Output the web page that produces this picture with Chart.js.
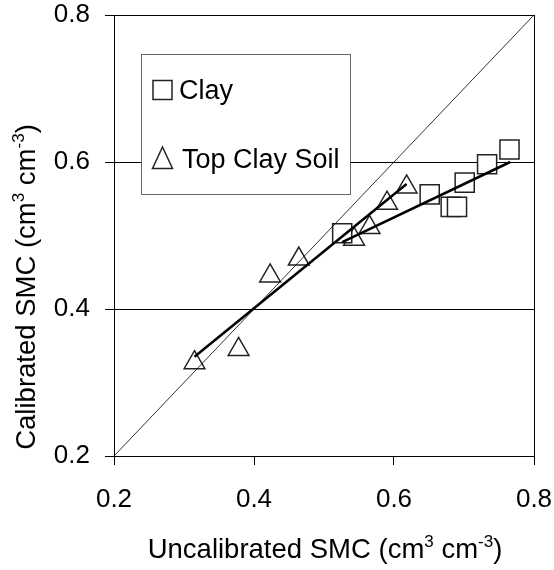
<!DOCTYPE html>
<html>
<head>
<meta charset="utf-8">
<script src="https://cdn.jsdelivr.net/npm/chart.js@4.4.0/dist/chart.umd.min.js"></script>
<style>
  body { margin: 0; background: #fff; }
  canvas { display: block; }
</style>
</head>
<body>
<canvas id="smc" width="554" height="570"></canvas>
<script>
// values
const clayX = [0.765, 0.733, 0.701, 0.651, 0.681, 0.690, 0.526];
const clayY = [0.617, 0.597, 0.572, 0.556, 0.539, 0.539, 0.503];
const topX = [0.618, 0.590, 0.565, 0.543, 0.464, 0.423, 0.378, 0.315];
const topY = [0.566, 0.544, 0.511, 0.495, 0.468, 0.445, 0.345, 0.327];
const clayFitX = [0.526, 0.766];
const clayFitY = [0.491, 0.600];
const topFitX = [0.315, 0.618];
const topFitY = [0.335, 0.570];
const oneToOne = [0.2, 0.8];
const axisTicks = [0.2, 0.4, 0.6, 0.8];
const seriesNames = ['Clay', 'Top Clay Soil'];

const FONT = "'Liberation Sans', Arial, sans-serif";
const pts = (xs, ys) => xs.map((x, i) => ({ x: x, y: ys[i] }));

// draws text with superscript parts, centered on 0,0 (baseline)
function richText(ctx, parts, size) {
  const supSize = Math.round(size * 0.62);
  let total = 0;
  parts.forEach(p => {
    ctx.font = (p.sup ? supSize : size) + 'px ' + FONT;
    p.w = ctx.measureText(p.t).width;
    total += p.w;
  });
  let x = -total / 2;
  parts.forEach(p => {
    ctx.font = (p.sup ? supSize : size) + 'px ' + FONT;
    ctx.fillText(p.t, x, p.sup ? -size * 0.4 : 0);
    x += p.w;
  });
}

const extras = {
  id: 'extras',
  afterDraw(chart) {
    const ctx = chart.ctx;
    ctx.save();
    ctx.fillStyle = '#000';
    ctx.textAlign = 'left';
    ctx.textBaseline = 'alphabetic';
    // x title
    ctx.save();
    ctx.translate(325, 558);
    richText(ctx, [{ t: 'Uncalibrated SMC (cm' }, { t: '3', sup: true }, { t: ' cm' }, { t: '-3', sup: true }, { t: ')' }], 27.5);
    ctx.restore();
    // y title
    ctx.save();
    ctx.translate(35, 287);
    ctx.rotate(-Math.PI / 2);
    richText(ctx, [{ t: 'Calibrated SMC (cm' }, { t: '3', sup: true }, { t: ' cm' }, { t: '-3', sup: true }, { t: ')' }], 27.5);
    ctx.restore();

    // legend box
    ctx.fillStyle = '#fff';
    ctx.fillRect(141, 54, 209, 140);
    ctx.strokeStyle = '#666';
    ctx.lineWidth = 1;
    ctx.strokeRect(141.5, 54.5, 209, 140);

    ctx.strokeStyle = '#222';
    ctx.lineWidth = 1.5;
    ctx.fillStyle = '#fff';
    // square
    ctx.fillRect(153, 80.5, 19, 19);
    ctx.strokeRect(153, 80.5, 19, 19);
    // triangle
    ctx.beginPath();
    ctx.moveTo(162.5, 147);
    ctx.lineTo(172.5, 168.5);
    ctx.lineTo(152.5, 168.5);
    ctx.closePath();
    ctx.fill();
    ctx.stroke();

    ctx.fillStyle = '#000';
    ctx.font = '27px ' + FONT;
    ctx.fillText(seriesNames[0], 179, 99);
    ctx.fillText(seriesNames[1], 182, 168);
    ctx.restore();
  }
};

function noPad(scale) {
  scale.paddingLeft = 0;
  scale.paddingRight = 0;
  scale.paddingTop = 0;
  scale.paddingBottom = 0;
}

new Chart(document.getElementById('smc'), {
  type: 'scatter',
  data: {
    datasets: [
      {
        label: '1:1',
        type: 'line',
        data: pts(oneToOne, oneToOne),
        borderColor: '#000',
        borderWidth: 0.8,
        pointRadius: 0,
        order: 0
      },
      {
        label: 'Clay fit',
        type: 'line',
        data: pts(clayFitX, clayFitY),
        borderColor: '#000',
        borderWidth: 2.5,
        pointRadius: 0,
        order: 0
      },
      {
        label: 'Top Clay Soil fit',
        type: 'line',
        data: pts(topFitX, topFitY),
        borderColor: '#000',
        borderWidth: 2.5,
        pointRadius: 0,
        order: 0
      },
      {
        label: seriesNames[0],
        data: pts(clayX, clayY),
        pointStyle: 'rect',
        pointRadius: 13.5,
        pointBackgroundColor: '#fff',
        pointBorderColor: '#222',
        pointBorderWidth: 1.5,
        order: 1
      },
      {
        label: seriesNames[1],
        data: pts(topX, topY),
        pointStyle: 'triangle',
        pointRadius: 12,
        pointBackgroundColor: '#fff',
        pointBorderColor: '#222',
        pointBorderWidth: 1.5,
        order: 1
      }
    ]
  },
  options: {
    responsive: false,
    animation: false,
    devicePixelRatio: 1,
    layout: { padding: { top: 13, right: 20, left: 0, bottom: 0 } },
    plugins: {
      legend: { display: false },
      tooltip: { enabled: false }
    },
    scales: {
      x: {
        type: 'linear',
        min: 0.2,
        max: 0.8,
        afterFit(scale) { scale.height = 114; noPad(scale); },
        afterBuildTicks(scale) { scale.ticks = axisTicks.map(v => ({ value: v })); },
        ticks: {
          color: '#000',
          font: { family: FONT, size: 26 },
          padding: 19,
          callback: v => v.toFixed(1)
        },
        grid: {
          color: ctx => (ctx.tick && Math.abs(ctx.tick.value - 0.8) < 1e-6) ? '#000' : 'rgba(0,0,0,0)',
          tickColor: '#000',
          tickLength: 9,
          lineWidth: 1
        },
        border: { display: true, color: '#000', width: 1 },
        title: { display: false }
      },
      y: {
        type: 'linear',
        min: 0.2,
        max: 0.8,
        afterFit(scale) { scale.width = 114; noPad(scale); },
        afterBuildTicks(scale) { scale.ticks = axisTicks.map(v => ({ value: v })); },
        ticks: {
          color: '#000',
          font: { family: FONT, size: 26 },
          padding: 15,
          callback: v => v.toFixed(1)
        },
        grid: {
          color: '#000',
          tickColor: '#000',
          tickLength: 9,
          lineWidth: 1
        },
        border: { display: true, color: '#000', width: 1 },
        title: { display: false }
      }
    }
  },
  plugins: [extras]
});
</script>
</body>
</html>
